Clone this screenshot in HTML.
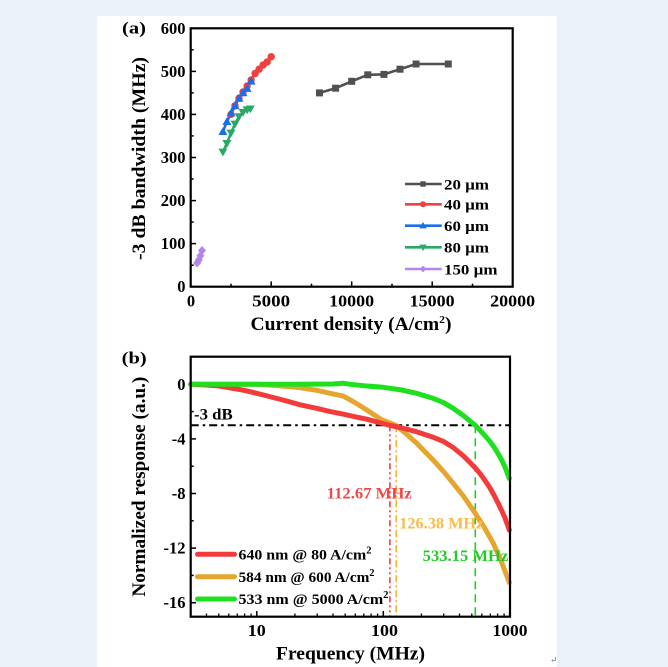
<!DOCTYPE html>
<html><head><meta charset="utf-8"><style>
html,body{margin:0;padding:0;background:#ebf1f9;}
svg{display:block;}
text{font-family:"Liberation Serif","DejaVu Serif",serif;font-weight:bold;}
</style></head><body>
<svg width="668" height="667" viewBox="0 0 668 667" xmlns="http://www.w3.org/2000/svg">
<rect x="0" y="0" width="668" height="667" fill="#ebf1f9"/>
<rect x="97" y="16" width="460" height="651" fill="#ffffff"/>

<!-- ================= PANEL A ================= -->
<text x="122" y="33.5" font-size="17" textLength="24" lengthAdjust="spacingAndGlyphs">(a)</text>
<g stroke="#000" stroke-width="1.5">
<line x1="190.7" y1="28.3" x2="196" y2="28.3"/>
<line x1="190.7" y1="71.4" x2="196" y2="71.4"/>
<line x1="190.7" y1="114.4" x2="196" y2="114.4"/>
<line x1="190.7" y1="157.5" x2="196" y2="157.5"/>
<line x1="190.7" y1="200.6" x2="196" y2="200.6"/>
<line x1="190.7" y1="243.6" x2="196" y2="243.6"/>
<line x1="190.7" y1="49.8" x2="193.7" y2="49.8"/>
<line x1="190.7" y1="92.9" x2="193.7" y2="92.9"/>
<line x1="190.7" y1="135.9" x2="193.7" y2="135.9"/>
<line x1="190.7" y1="179.0" x2="193.7" y2="179.0"/>
<line x1="190.7" y1="222.1" x2="193.7" y2="222.1"/>
<line x1="190.7" y1="265.2" x2="193.7" y2="265.2"/>
<line x1="271.2" y1="286.7" x2="271.2" y2="281.4"/>
<line x1="351.7" y1="286.7" x2="351.7" y2="281.4"/>
<line x1="432.2" y1="286.7" x2="432.2" y2="281.4"/>
<line x1="231" y1="286.7" x2="231" y2="283.7"/>
<line x1="311.5" y1="286.7" x2="311.5" y2="283.7"/>
<line x1="392" y1="286.7" x2="392" y2="283.7"/>
<line x1="472.5" y1="286.7" x2="472.5" y2="283.7"/>
</g>
<rect x="190.7" y="28.3" width="322" height="258.4" fill="none" stroke="#000" stroke-width="2.2"/>
<g font-size="16.5" text-anchor="end">
<text x="185.5" y="34">600</text>
<text x="185.5" y="77">500</text>
<text x="185.5" y="120">400</text>
<text x="185.5" y="163">300</text>
<text x="185.5" y="206">200</text>
<text x="185.5" y="249.2">100</text>
<text x="185.5" y="292.2">0</text>
</g>
<g font-size="16.5" text-anchor="middle">
<text x="191" y="306.5">0</text>
<text x="271.2" y="306.5" textLength="38" lengthAdjust="spacingAndGlyphs">5000</text>
<text x="351.7" y="306.5" textLength="45" lengthAdjust="spacingAndGlyphs">10000</text>
<text x="432.2" y="306.5" textLength="45" lengthAdjust="spacingAndGlyphs">15000</text>
<text x="512.7" y="306.5" textLength="45" lengthAdjust="spacingAndGlyphs">20000</text>
</g>
<text x="250.5" y="330" font-size="18.5" textLength="201" lengthAdjust="spacingAndGlyphs">Current density (A/cm<tspan dy="-7" font-size="11">2</tspan><tspan dy="7">)</tspan></text>
<text transform="translate(145,158.5) rotate(-90)" text-anchor="middle" font-size="18.5" textLength="203" lengthAdjust="spacingAndGlyphs">-3 dB bandwidth (MHz)</text>

<g fill="none" stroke-width="2.6" stroke-linejoin="round">
<polyline stroke="#505050" points="319.5,92.9 335.6,88.2 351.7,81.3 367.8,74.8 383.9,74.4 400,69.2 416.1,64 448.3,64"/>
<polyline stroke="#ee4040" points="231,114.4 235,105.8 239,98.1 243,92 247.1,86 251.1,80 255.1,73.5 259.1,69.2 263.2,64.9 267.2,61.9 271.2,56.7"/>
<polyline stroke="#1a6ee8" points="222.9,131.7 226.9,121.7 231,113.1 235,105.8 239,98.5 243,92.9 247.1,88.6 251.1,81.3"/>
<polyline stroke="#2aa866" points="222.9,151.9 226.9,143.3 231,132.9 235,123.9 239,116.6 243,112.3 247.1,109.7 250.3,108.8"/>
<polyline stroke="#b585ee" stroke-width="3" points="197.1,263 197.9,261.7 198.8,260 199.6,257.8 200.4,255.7 201.2,253.1 202,250.5"/>
</g>
<g fill="#505050">
<rect x="316" y="89.4" width="7" height="7"/><rect x="332.1" y="84.7" width="7" height="7"/><rect x="348.2" y="77.8" width="7" height="7"/><rect x="364.3" y="71.3" width="7" height="7"/><rect x="380.4" y="70.9" width="7" height="7"/><rect x="396.5" y="65.7" width="7" height="7"/><rect x="412.6" y="60.5" width="7" height="7"/><rect x="444.8" y="60.5" width="7" height="7"/>
</g>
<g fill="#ee4040">
<circle cx="231" cy="114.4" r="3.7"/><circle cx="235" cy="105.8" r="3.7"/><circle cx="239" cy="98.1" r="3.7"/><circle cx="243" cy="92" r="3.7"/><circle cx="247.1" cy="86" r="3.7"/><circle cx="251.1" cy="80" r="3.7"/><circle cx="255.1" cy="73.5" r="3.7"/><circle cx="259.1" cy="69.2" r="3.7"/><circle cx="263.2" cy="64.9" r="3.7"/><circle cx="267.2" cy="61.9" r="3.7"/><circle cx="271.2" cy="56.7" r="3.7"/>
</g>
<g fill="#1a6ee8">
<path d="M222.9,127.2 l4.5,7.8 h-9z M226.9,117.2 l4.5,7.8 h-9z M231,108.6 l4.5,7.8 h-9z M235,101.3 l4.5,7.8 h-9z M239,94 l4.5,7.8 h-9z M243,88.4 l4.5,7.8 h-9z M247.1,84.1 l4.5,7.8 h-9z M251.1,76.8 l4.5,7.8 h-9z"/>
</g>
<g fill="#2aa866">
<path d="M222.9,156.4 l4.5,-7.8 h-9z M226.9,147.8 l4.5,-7.8 h-9z M231,137.4 l4.5,-7.8 h-9z M235,128.4 l4.5,-7.8 h-9z M239,121.1 l4.5,-7.8 h-9z M243,116.8 l4.5,-7.8 h-9z M247.1,114.2 l4.5,-7.8 h-9z M250.3,113.3 l4.5,-7.8 h-9z"/>
</g>
<g fill="#b585ee">
<path d="M197.1,258.5 l4,4.5 -4,4.5 -4,-4.5z M198.8,255.5 l4,4.5 -4,4.5 -4,-4.5z M200.4,251.2 l4,4.5 -4,4.5 -4,-4.5z M202,246 l4,4.5 -4,4.5 -4,-4.5z"/>
</g>
<g stroke-width="2.6">
<line x1="405" y1="184" x2="441.7" y2="184" stroke="#505050"/>
<line x1="405" y1="204.3" x2="441.7" y2="204.3" stroke="#ee4040"/>
<line x1="405" y1="225.7" x2="441.7" y2="225.7" stroke="#1a6ee8"/>
<line x1="405" y1="247.3" x2="441.7" y2="247.3" stroke="#2aa866"/>
<line x1="405" y1="269" x2="441.7" y2="269" stroke="#b585ee"/>
</g>
<rect x="420.3" y="181.3" width="5.4" height="5.4" fill="#505050"/>
<circle cx="423" cy="204.3" r="3" fill="#ee4040"/>
<path d="M423,222 l3.8,6.4 h-7.6z" fill="#1a6ee8"/>
<path d="M423,251 l3.8,-6.4 h-7.6z" fill="#2aa866"/>
<path d="M423,265.6 l3.3,3.4 -3.3,3.4 -3.3,-3.4z" fill="#b585ee"/>
<g font-size="15">
<text x="444" y="189.3" textLength="45" lengthAdjust="spacingAndGlyphs">20 µm</text>
<text x="444" y="209.6" textLength="45" lengthAdjust="spacingAndGlyphs">40 µm</text>
<text x="444" y="231" textLength="45" lengthAdjust="spacingAndGlyphs">60 µm</text>
<text x="444" y="252.6" textLength="45" lengthAdjust="spacingAndGlyphs">80 µm</text>
<text x="444" y="274.3" textLength="53.5" lengthAdjust="spacingAndGlyphs">150 µm</text>
</g>

<!-- ================= PANEL B ================= -->
<text x="121.7" y="363.5" font-size="17" textLength="25" lengthAdjust="spacingAndGlyphs">(b)</text>
<g stroke="#000" stroke-width="1.5">
<line x1="190.7" y1="384.3" x2="196" y2="384.3"/>
<line x1="190.7" y1="438.9" x2="196" y2="438.9"/>
<line x1="190.7" y1="493.5" x2="196" y2="493.5"/>
<line x1="190.7" y1="548.1" x2="196" y2="548.1"/>
<line x1="190.7" y1="602.7" x2="196" y2="602.7"/>
<line x1="190.7" y1="411.6" x2="193.7" y2="411.6"/>
<line x1="190.7" y1="466.2" x2="193.7" y2="466.2"/>
<line x1="190.7" y1="520.8" x2="193.7" y2="520.8"/>
<line x1="190.7" y1="575.4" x2="193.7" y2="575.4"/>
<line x1="256.8" y1="616.7" x2="256.8" y2="611"/>
<line x1="383.3" y1="616.7" x2="383.3" y2="611"/>
</g>
<g stroke="#000" stroke-width="1.3">
<line x1="206.5" y1="616.7" x2="206.5" y2="613.5"/><line x1="218.8" y1="616.7" x2="218.8" y2="613.5"/><line x1="228.8" y1="616.7" x2="228.8" y2="613.5"/><line x1="237.3" y1="616.7" x2="237.3" y2="613.5"/><line x1="244.6" y1="616.7" x2="244.6" y2="613.5"/><line x1="251.1" y1="616.7" x2="251.1" y2="613.5"/>
<line x1="294.9" y1="616.7" x2="294.9" y2="613.5"/><line x1="317.2" y1="616.7" x2="317.2" y2="613.5"/><line x1="333" y1="616.7" x2="333" y2="613.5"/><line x1="345.2" y1="616.7" x2="345.2" y2="613.5"/><line x1="355.3" y1="616.7" x2="355.3" y2="613.5"/><line x1="363.8" y1="616.7" x2="363.8" y2="613.5"/><line x1="371.1" y1="616.7" x2="371.1" y2="613.5"/><line x1="377.6" y1="616.7" x2="377.6" y2="613.5"/>
<line x1="421.4" y1="616.7" x2="421.4" y2="613.5"/><line x1="443.7" y1="616.7" x2="443.7" y2="613.5"/><line x1="459.5" y1="616.7" x2="459.5" y2="613.5"/><line x1="471.8" y1="616.7" x2="471.8" y2="613.5"/><line x1="481.8" y1="616.7" x2="481.8" y2="613.5"/><line x1="490.3" y1="616.7" x2="490.3" y2="613.5"/><line x1="497.6" y1="616.7" x2="497.6" y2="613.5"/><line x1="504.1" y1="616.7" x2="504.1" y2="613.5"/>
</g>

<line x1="190.7" y1="425.3" x2="510" y2="425.3" stroke="#000" stroke-width="2" stroke-dasharray="8,4,2.5,4"/>
<line x1="389.9" y1="425.3" x2="389.9" y2="616.7" stroke="#ff2a2a" stroke-width="1.5" stroke-dasharray="6,3,2,3,2,3"/>
<line x1="396.2" y1="425.3" x2="396.2" y2="616.7" stroke="#f5b020" stroke-width="1.5" stroke-dasharray="7,3,2,3"/>
<line x1="475.3" y1="425.3" x2="475.3" y2="616.7" stroke="#22cc22" stroke-width="1.6" stroke-dasharray="8,5"/>

<g fill="none" stroke-linejoin="round" stroke-linecap="round">
<polyline stroke="#e5a630" stroke-width="5" points="190.7,384.3 256.8,384.3 279.1,385.7 299.9,387.6 317.2,390.4 333,393.9 343,396 350.5,400 359.7,405.5 366.8,410 374.4,415 381.7,419.8 396,425.3 405.6,433.4 416.5,443 433.2,460.1 443.7,471.7 453.2,483.3 463.5,496.2 475.3,513.3 483.6,526.3 493.3,543.3 500.9,560.4 509.3,582.5"/>
<polyline stroke="#f43b3b" stroke-width="5" points="190.7,384.3 206.5,385 216.5,385.7 228.8,387.7 244.6,390.4 256.8,393.3 271.3,397 286.6,401 300.2,404.8 316.6,408.3 330.2,411.6 343,414.1 355.3,416.8 366.8,419.2 377.6,422.2 389.9,425.3 401.8,428 416.5,431.7 433.2,437.3 443.7,441.6 453.2,447.5 463.5,456 470,462.5 475.3,468 480,473.5 485,480.5 490,488 495,497 500,507 505,518 509.3,530"/>
<polyline stroke="#1fe01f" stroke-width="5" points="190.7,384.3 256.8,384.3 294.9,384.3 333,384 343,383.2 350.5,384.3 363.8,385.7 383.3,387.3 401.8,390 416.5,393.3 433.2,398.4 443.7,402.7 453.2,408.3 463.5,415.7 475.3,425.3 483.6,434.1 490,441.5 495,448.5 500.9,458.5 505,467 509.3,478.5"/>
</g>

<rect x="190.7" y="356.7" width="319.3" height="260" fill="none" stroke="#000" stroke-width="2.2"/>

<text x="194" y="419.3" font-size="16" textLength="38.7" lengthAdjust="spacingAndGlyphs">-3 dB</text>
<text x="326.7" y="498.5" font-size="16" fill="#ee4848" textLength="85" lengthAdjust="spacingAndGlyphs">112.67 MHz</text>
<text x="399.3" y="528.5" font-size="16" fill="#f6bd4a" textLength="84" lengthAdjust="spacingAndGlyphs">126.38 MHz</text>
<text x="422.7" y="561" font-size="16" fill="#22cc22" textLength="85.6" lengthAdjust="spacingAndGlyphs">533.15 MHz</text>

<g stroke-width="5" stroke-linecap="round">
<line x1="197.5" y1="554.3" x2="234.5" y2="554.3" stroke="#f43b3b"/>
<line x1="197.5" y1="576.7" x2="234.5" y2="576.7" stroke="#e5a630"/>
<line x1="197.5" y1="599" x2="234.5" y2="599" stroke="#1fe01f"/>
</g>
<g font-size="15">
<text x="238.5" y="559.5" textLength="133" lengthAdjust="spacingAndGlyphs">640 nm @ 80 A/cm<tspan dy="-6" font-size="10">2</tspan></text>
<text x="238.5" y="581.9" textLength="136" lengthAdjust="spacingAndGlyphs">584 nm @ 600 A/cm<tspan dy="-6" font-size="10">2</tspan></text>
<text x="238.5" y="604.2" textLength="150" lengthAdjust="spacingAndGlyphs">533 nm @ 5000 A/cm<tspan dy="-6" font-size="10">2</tspan></text>
</g>

<g font-size="16.5" text-anchor="end">
<text x="185.5" y="389.8">0</text>
<text x="185.5" y="444.4">-4</text>
<text x="185.5" y="499">-8</text>
<text x="185.5" y="553.6">-12</text>
<text x="185.5" y="608.2">-16</text>
</g>
<g font-size="16.5" text-anchor="middle">
<text x="256.8" y="636" textLength="18" lengthAdjust="spacingAndGlyphs">10</text>
<text x="384.5" y="636" textLength="27" lengthAdjust="spacingAndGlyphs">100</text>
<text x="510" y="636" textLength="35" lengthAdjust="spacingAndGlyphs">1000</text>
</g>
<text x="350.5" y="659.5" font-size="18.5" text-anchor="middle" textLength="149" lengthAdjust="spacingAndGlyphs">Frequency (MHz)</text>
<text transform="translate(145,486.7) rotate(-90)" text-anchor="middle" font-size="18.5" textLength="220" lengthAdjust="spacingAndGlyphs">Normalized response (a.u.)</text>

<text x="550" y="663" font-size="9" fill="#999" font-weight="normal">↵</text>
</svg>
</body></html>
